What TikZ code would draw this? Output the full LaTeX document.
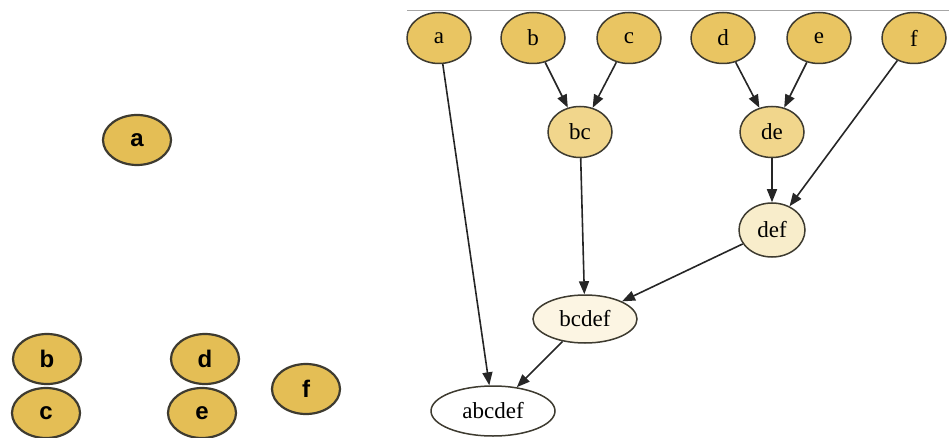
\documentclass[tikz,border=0pt]{standalone}
\usepackage{fontspec}
\setmainfont{Liberation Serif}
\newfontfamily\labelsans{Liberation Sans}
\usetikzlibrary{shapes.geometric,arrows.meta}
\definecolor{gold}{HTML}{E4BE55}
\definecolor{goldtop}{HTML}{E9C562}
\definecolor{goldmid}{HTML}{F1D68C}
\definecolor{goldpale}{HTML}{F8EDCB}
\definecolor{goldfaint}{HTML}{FCF5E3}
\definecolor{rim}{HTML}{3E3B30}

\tikzset{
	leaf/.style={ellipse,draw=rim,line width=2.2pt,fill=gold,inner sep=0pt,minimum width=68pt,minimum height=50pt,font=\labelsans\bfseries\fontsize{24}{26}\selectfont},
	merge/.style={ellipse,draw=rim,line width=1.5pt,inner sep=0pt,minimum width=64pt,minimum height=51pt,font=\fontsize{23}{26}\selectfont},
	link/.style={line width=1.6pt,draw=black!85,-{Triangle[length=13pt,width=10pt]}},
}

\begin{document}
\begin{tikzpicture}[x=1pt,y=-1pt]
	\useasboundingbox (0,0) rectangle (949,438);
	% loose pieces on the left
	\node[leaf] (la) at (137,140) {a};
	\node[leaf] (lb) at (47,359) {b};
	\node[leaf] (lc) at (46,413) {c};
	\node[leaf] (ld) at (205,359) {d};
	\node[leaf] (le) at (202,413) {e};
	\node[leaf] (lf) at (306,389) {f};
	% merge tree on the right
	\draw[black!35,line width=1pt] (407,11) -- (949,11);
	\node[merge,fill=goldtop] (a) at (439,38) {\raisebox{-3pt}{a}};
	\node[merge,fill=goldtop] (b) at (533,38) {\raisebox{-3pt}{b}};
	\node[merge,fill=goldtop] (c) at (629,38) {\raisebox{-3pt}{c}};
	\node[merge,fill=goldtop] (d) at (723,38) {\raisebox{-3pt}{d}};
	\node[merge,fill=goldtop] (e) at (819,38) {\raisebox{-3pt}{e}};
	\node[merge,fill=goldtop] (f) at (914,38) {\raisebox{-3pt}{f}};
	\node[merge,fill=goldmid] (bc) at (580,132) {bc};
	\node[merge,fill=goldmid] (de) at (772,132) {de};
	\node[merge,fill=goldpale,minimum width=66pt,minimum height=54pt] (def) at (772,230) {def};
	\node[merge,fill=goldfaint,minimum width=104pt,minimum height=48pt] (bcdef) at (585,319) {bcdef};
	\node[merge,fill=white,minimum width=124pt,minimum height=50pt] (abcdef) at (493,411) {abcdef};
	\draw[link] (b) -- (bc);
	\draw[link] (c) -- (bc);
	\draw[link] (d) -- (de);
	\draw[link] (e) -- (de);
	\draw[link] (de) -- (def);
	\draw[link] (f) -- (def);
	\draw[link] (bc) -- (bcdef);
	\draw[link] (def) -- (bcdef);
	\draw[link] (a) -- (abcdef);
	\draw[link] (bcdef) -- (abcdef);
\end{tikzpicture}
\end{document}
